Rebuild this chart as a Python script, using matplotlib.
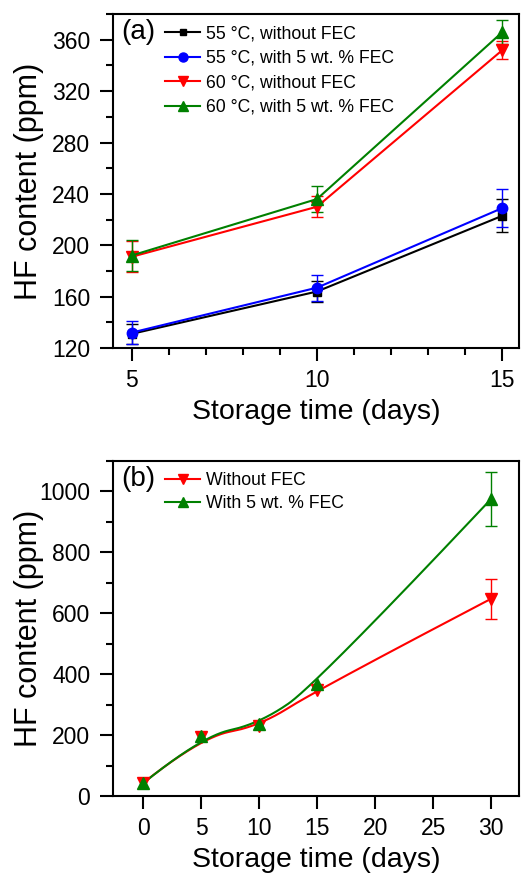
import numpy as np
import matplotlib.pyplot as plt
from matplotlib.lines import Line2D
from matplotlib.ticker import MultipleLocator

plt.rcParams['font.family'] = ['Liberation Sans', 'DejaVu Sans']

# panel (a)
days_a = [5, 10, 15]
hf_55_no = [131, 164, 223]
err_55_no = [8, 8, 13]
hf_55_fec = [132, 167, 229]
err_55_fec = [9, 10, 15]
hf_60_no = [191, 230, 352]
err_60_no = [12, 8, 7]
hf_60_fec = [192, 236, 366]
err_60_fec = [12, 10, 9]

# panel (b)
days_b = [0, 5, 10, 15, 30]
hf_b_no = [43, 194, 229, 349, 648]
err_b_no = [0, 0, 0, 0, 66]
hf_b_fec = [42, 196, 237, 369, 976]
err_b_fec = [0, 0, 0, 0, 88]


def bspline(x, y, k=2, n=400):
    """clamped B-spline with the points as control points (Origin-like B-spline connect)"""
    P = np.column_stack([x, y]).astype(float)
    nc = len(P)
    inner = np.linspace(0, 1, nc - k + 1)
    knots = np.concatenate([[0] * k, inner, [1] * k])
    u = np.linspace(0, 1, n)
    u[-1] -= 1e-9
    B = np.zeros((n, len(knots) - 1))
    for i in range(len(knots) - 1):
        B[:, i] = (u >= knots[i]) & (u < knots[i + 1])
    for d in range(1, k + 1):
        Bn = np.zeros((n, len(knots) - 1 - d))
        for i in range(len(knots) - 1 - d):
            a = knots[i + d] - knots[i]
            b = knots[i + d + 1] - knots[i + 1]
            t1 = (u - knots[i]) / a * B[:, i] if a > 0 else 0
            t2 = (knots[i + d + 1] - u) / b * B[:, i + 1] if b > 0 else 0
            Bn[:, i] = t1 + t2
        B = Bn
    C = B @ P
    return C[:, 0], C[:, 1]


fig = plt.figure(figsize=(5.22, 8.84), dpi=100)
ax1 = fig.add_axes([0.2165, 0.6063, 0.778, 0.3778])
ax2 = fig.add_axes([0.2165, 0.0995, 0.778, 0.379])

eb = dict(capsize=4, elinewidth=1, capthick=1, lw=1.5)
series_a = [
    (hf_55_no, err_55_no, 'black', 's', 6, '55 °C, without FEC'),
    (hf_55_fec, err_55_fec, 'blue', 'o', 7.5, '55 °C, with 5 wt. % FEC'),
    (hf_60_no, err_60_no, 'red', 'v', 8, '60 °C, without FEC'),
    (hf_60_fec, err_60_fec, 'green', '^', 8, '60 °C, with 5 wt. % FEC'),
]
handles_a = []
for vals, err, col, mk, ms, lab in series_a:
    ax1.errorbar(days_a, vals, yerr=err, color=col, marker=mk, ms=ms, **eb)
    handles_a.append(Line2D([], [], color=col, marker=mk, ms=ms - 1, lw=1.5, label=lab))

ax1.set_xlim(4.5, 15.45)
ax1.set_ylim(120, 380)
ax1.xaxis.set_major_locator(MultipleLocator(5))
ax1.xaxis.set_minor_locator(MultipleLocator(1))
ax1.yaxis.set_major_locator(MultipleLocator(40))
ax1.yaxis.set_minor_locator(MultipleLocator(20))
ax1.text(0.02, 0.985, '(a)', transform=ax1.transAxes, fontsize=20, va='top', ha='left')
ax1.legend(handles=handles_a, loc='upper left', bbox_to_anchor=(0.1, 1.0), frameon=False,
           fontsize=12.7, handlelength=2.0, handletextpad=0.3, labelspacing=0.42,
           borderaxespad=0.25)

# panel (b)
xs, ys = bspline(days_b, hf_b_fec)
xr, yr = bspline(days_b, hf_b_no)
ax2.plot(xr, yr, color='red', lw=1.5)
ax2.plot(xs, ys, color='green', lw=1.5)
for vals, err, col, mk in [(hf_b_no, err_b_no, 'red', 'v'), (hf_b_fec, err_b_fec, 'green', '^')]:
    ax2.plot(days_b, vals, color=col, marker=mk, ms=8, ls='none')
    sel = [i for i, e in enumerate(err) if e > 0]
    ax2.errorbar([days_b[i] for i in sel], [vals[i] for i in sel], yerr=[err[i] for i in sel],
                 color=col, ls='none', capsize=4, elinewidth=1, capthick=1)
handles_b = [Line2D([], [], color='red', marker='v', ms=7, lw=1.5, label='Without FEC'),
             Line2D([], [], color='green', marker='^', ms=7, lw=1.5, label='With 5 wt. % FEC')]

ax2.set_xlim(-2.6, 32.4)
ax2.set_ylim(0, 1100)
ax2.xaxis.set_major_locator(MultipleLocator(5))
ax2.yaxis.set_major_locator(MultipleLocator(200))
ax2.yaxis.set_minor_locator(MultipleLocator(100))
ax2.text(0.02, 0.985, '(b)', transform=ax2.transAxes, fontsize=20, va='top', ha='left')
ax2.legend(handles=handles_b, loc='upper left', bbox_to_anchor=(0.1, 1.0), frameon=False,
           fontsize=12.7, handlelength=2.0, handletextpad=0.3, labelspacing=0.3,
           borderaxespad=0.25)

for ax in (ax1, ax2):
    ax.set_xlabel('Storage time (days)', fontsize=20.5, labelpad=5)
    ax.set_ylabel('HF content (ppm)', fontsize=22)
    for s in ax.spines.values():
        s.set_linewidth(1.5)
    ax.tick_params(which='major', direction='out', length=9.4, width=1.5, labelsize=16.5,
                   top=False, right=False)
    ax.tick_params(axis='x', which='major', pad=5.5)
    ax.tick_params(axis='y', which='major', pad=7)
    ax.tick_params(which='minor', direction='out', length=5, width=1.5, top=False, right=False)
    ax.yaxis.set_label_coords(-0.17, 0.5)

fig.savefig('out.png', dpi=100)
